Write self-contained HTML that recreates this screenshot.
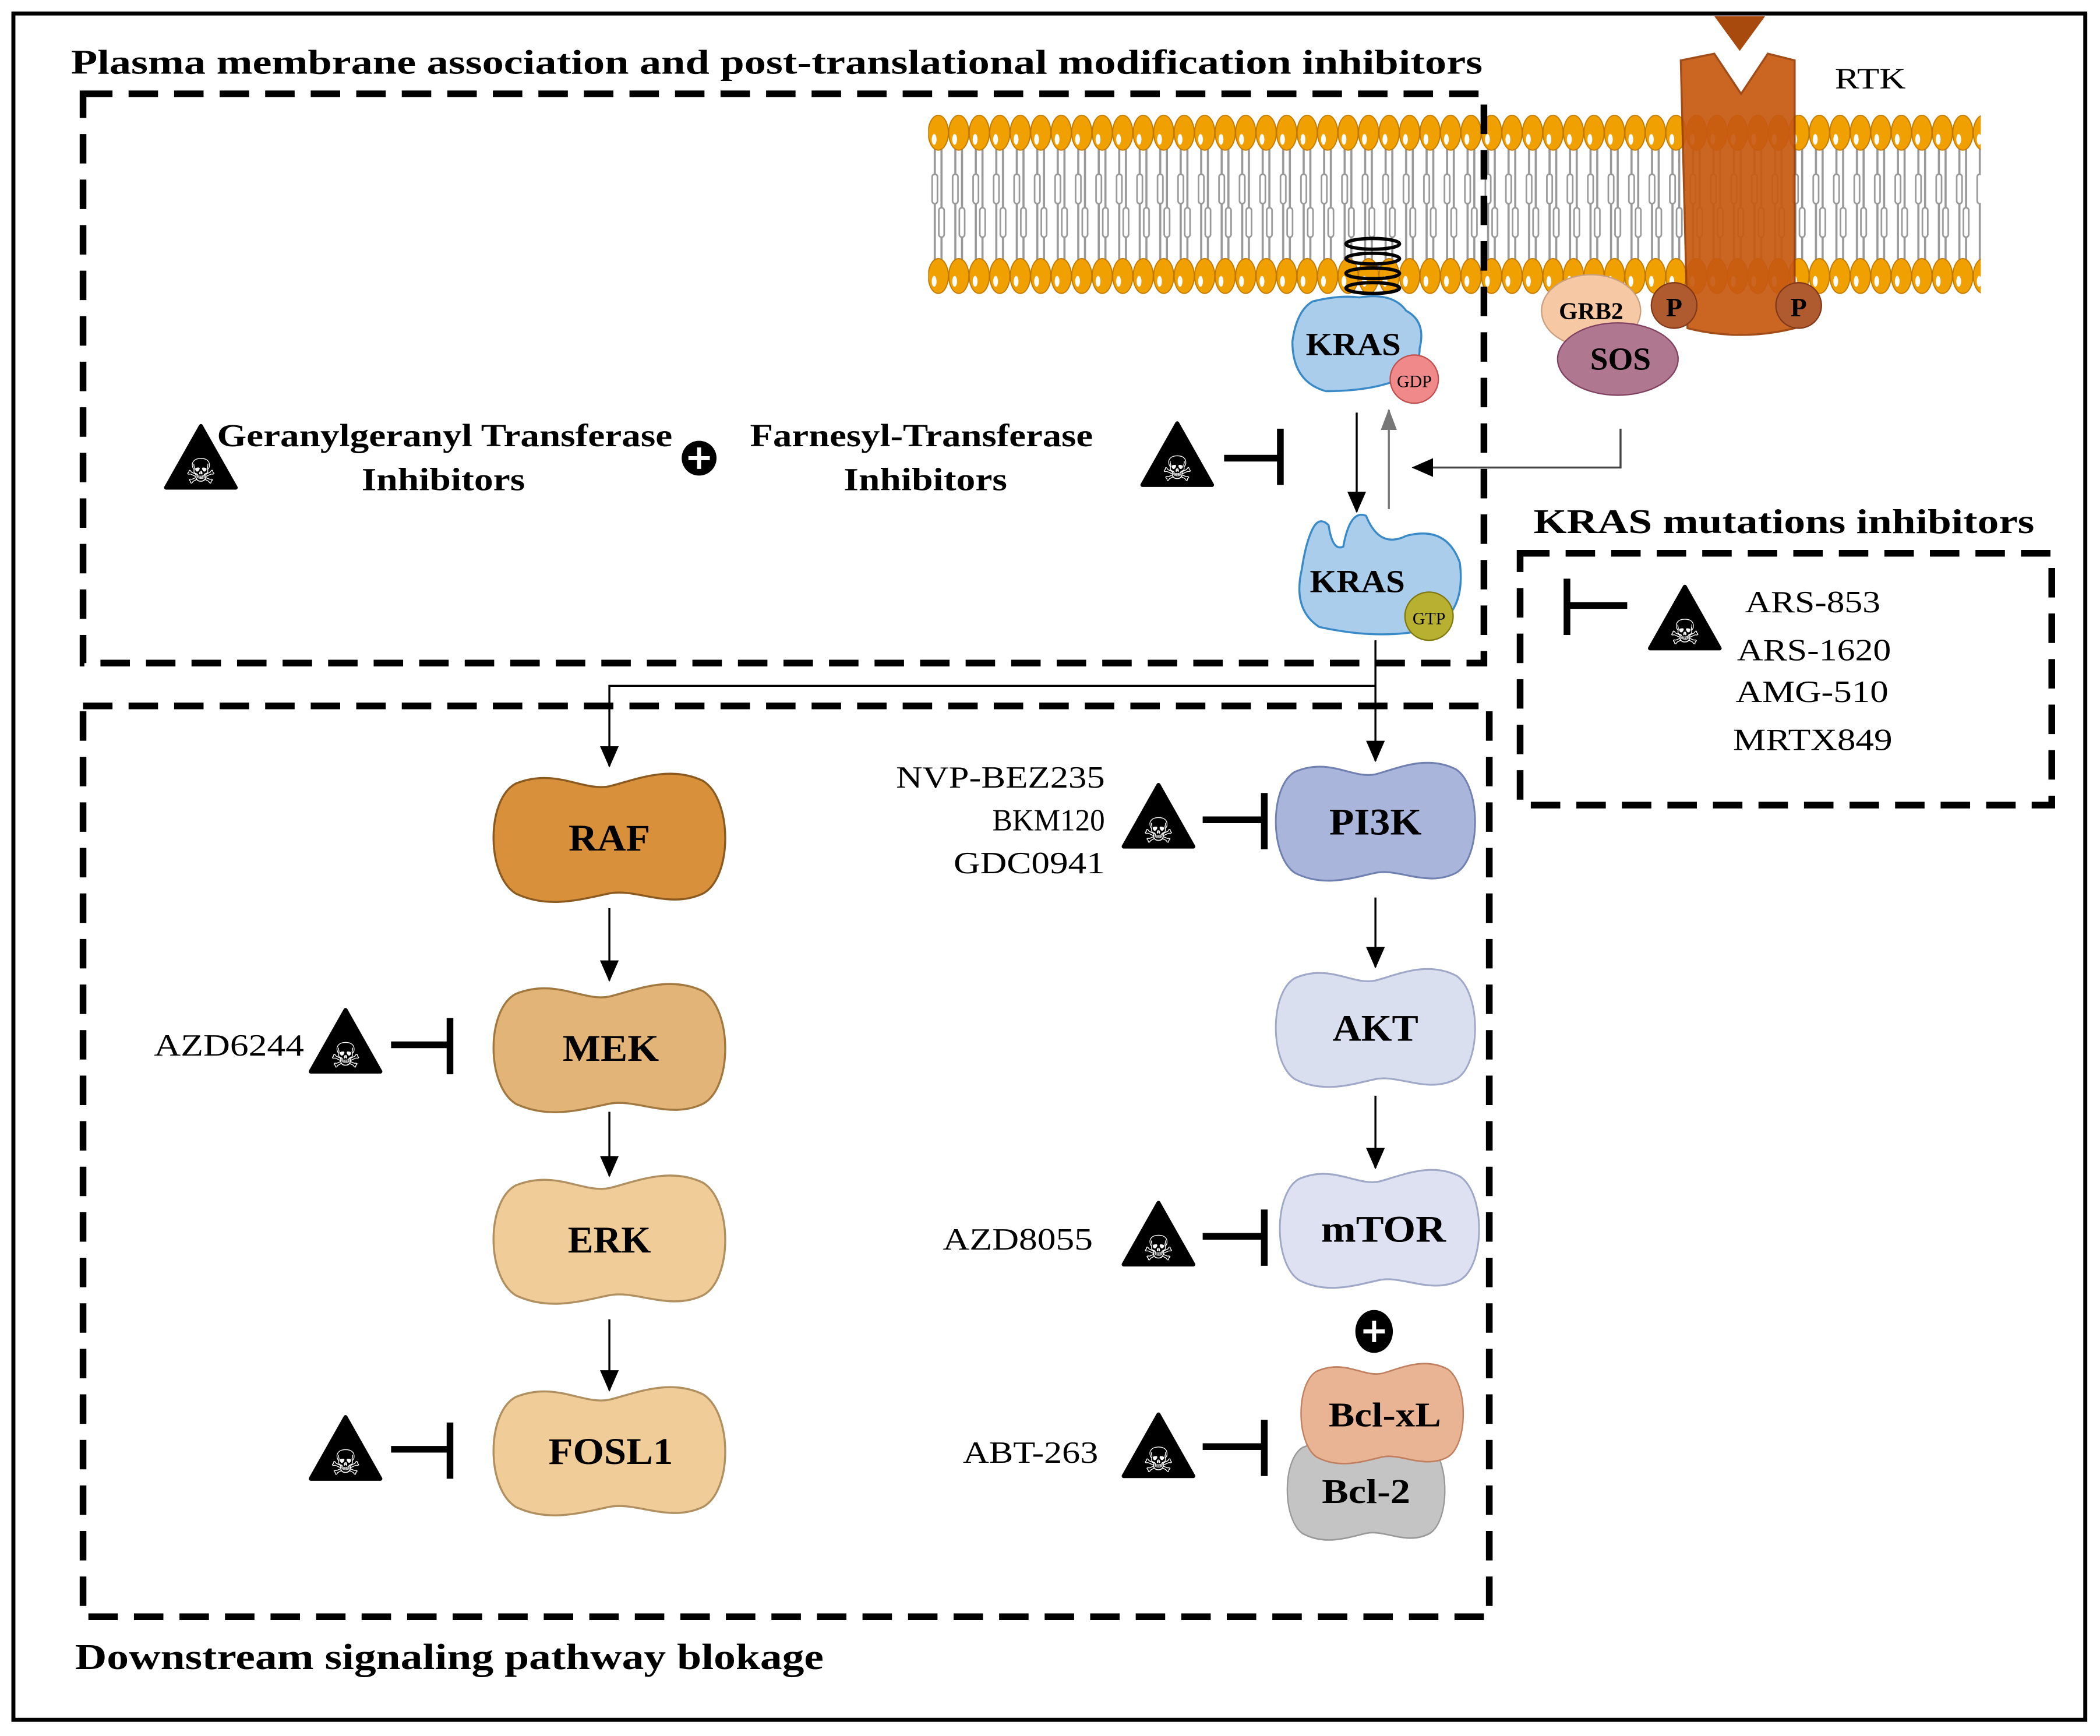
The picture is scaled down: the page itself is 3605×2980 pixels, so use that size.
<!DOCTYPE html>
<html><head><meta charset="utf-8"><style>
html,body{margin:0;padding:0;background:#fff;}
svg{display:block;}
text{font-family:"Liberation Serif",serif;}
</style></head><body>
<svg width="3605" height="2980" viewBox="0 0 1568 1296" xmlns="http://www.w3.org/2000/svg">
<defs>
<pattern id="mem" x="693" y="0" width="15.3" height="1296" patternUnits="userSpaceOnUse">
<line x1="5" y1="110" x2="5" y2="196" stroke="#999" stroke-width="1.6"/>
<line x1="10" y1="110" x2="10" y2="196" stroke="#999" stroke-width="1.6"/>
<rect x="3" y="130" width="4" height="22" rx="2" fill="#fff" stroke="#999" stroke-width="1.2"/>
<rect x="8" y="155" width="4" height="22" rx="2" fill="#fff" stroke="#999" stroke-width="1.2"/>
<ellipse cx="7.6" cy="99" rx="7.5" ry="13" fill="#f0a000" stroke="#c07800" stroke-width="0.8"/>
<ellipse cx="4.5" cy="104" rx="1.8" ry="4" fill="#fff"/>
<ellipse cx="7.6" cy="206" rx="7.5" ry="13" fill="#f0a000" stroke="#c07800" stroke-width="0.8"/>
<ellipse cx="4.5" cy="210" rx="1.8" ry="4" fill="#fff"/>
</pattern>
<path id="bean" d="M-70,-40 C-40,-52 -20,-34 0,-38 C20,-43 45,-54 70,-42 C92,-28 92,30 70,42 C45,54 20,38 0,42 C-20,46 -45,54 -70,42 C-92,28 -92,-28 -70,-40Z"/>
<g id="tri"><path d="M0,-24 L26,22 L-26,22Z" fill="#000" stroke="#000" stroke-width="3" stroke-linejoin="round"/></g>
<marker id="ar" markerWidth="16" markerHeight="14" refX="15" refY="7" orient="auto" markerUnits="userSpaceOnUse"><path d="M0,0 L16,7 L0,14Z" fill="#000"/></marker>
<marker id="ag" markerWidth="16" markerHeight="12" refX="15" refY="6" orient="auto" markerUnits="userSpaceOnUse"><path d="M0,0 L16,6 L0,12Z" fill="#777"/></marker>
</defs>
<rect x="10" y="10" width="1547" height="1274" fill="none" stroke="#000" stroke-width="3"/>
<rect x="693" y="84" width="786" height="138" fill="url(#mem)"/>
<path d="M1255,45 L1280,40 L1300,70 L1320,40 L1340,45 L1340,245 Q1300,255 1260,245Z" fill="#c85a12" stroke="#9a4008" stroke-width="1.5" opacity="0.93"/>
<path d="M1280,12 L1318,12 L1299,38Z" fill="#a8490d"/>
<text x="1370" y="66" font-size="22" textLength="53" lengthAdjust="spacingAndGlyphs">RTK</text>
<g fill="none" stroke="#000" stroke-width="5" stroke-dasharray="22,12">
<rect x="62" y="70" width="1046" height="425"/>
<rect x="62" y="527" width="1050" height="680"/>
<rect x="1135" y="413" width="397" height="188"/>
</g>
<text x="53" y="55" font-size="26" font-weight="bold" textLength="1054" lengthAdjust="spacingAndGlyphs">Plasma membrane association and post-translational  modification inhibitors</text>
<text x="1145" y="398" font-size="26" font-weight="bold" textLength="374" lengthAdjust="spacingAndGlyphs">KRAS mutations inhibitors</text>
<text x="56" y="1246" font-size="27" font-weight="bold" textLength="559" lengthAdjust="spacingAndGlyphs">Downstream signaling  pathway blokage</text>
<g fill="none" stroke="#000" stroke-width="2.5">
<ellipse cx="1025" cy="182" rx="20" ry="4"/><ellipse cx="1025" cy="193" rx="20" ry="4"/><ellipse cx="1025" cy="204" rx="20" ry="4"/><ellipse cx="1025" cy="215" rx="20" ry="4"/>
</g>
<path d="M980,225 Q1000,220 1015,222 Q1040,218 1050,232 Q1065,240 1060,260 Q1060,280 1040,285 Q1020,292 990,292 Q965,285 965,255 Q968,232 980,225Z" fill="#a9cdea" stroke="#3a8ac8" stroke-width="1.5"/>
<text x="975" y="265" font-size="24" font-weight="bold" textLength="71" lengthAdjust="spacingAndGlyphs">KRAS</text>
<circle cx="1056" cy="283" r="18" fill="#f08a8a" stroke="#c05050"/>
<text x="1056" y="289" font-size="13" text-anchor="middle">GDP</text>
<ellipse cx="1188" cy="232" rx="37" ry="27" fill="#f7c8a4" stroke="#c8a080"/>
<text x="1188" y="238" font-size="18" text-anchor="middle" font-weight="bold">GRB2</text>
<ellipse cx="1208" cy="268" rx="45" ry="27" fill="#b07890" stroke="#804060"/>
<text x="1210" y="276" font-size="24" text-anchor="middle" font-weight="bold">SOS</text>
<circle cx="1250" cy="228" r="17" fill="#b05a30" stroke="#803818"/>
<text x="1250" y="236" font-size="20" text-anchor="middle" font-weight="bold">P</text>
<circle cx="1343" cy="228" r="17" fill="#b05a30" stroke="#803818"/>
<text x="1343" y="236" font-size="20" text-anchor="middle" font-weight="bold">P</text>
<line x1="1013" y1="308" x2="1013" y2="382" stroke="#000" stroke-width="1.5" marker-end="url(#ar)"/>
<line x1="1037" y1="380" x2="1037" y2="306" stroke="#777" stroke-width="1.5" marker-end="url(#ag)"/>
<polyline points="1210,320 1210,349 1055,349" fill="none" stroke="#444" stroke-width="1.5" marker-end="url(#ar)"/>
<path d="M980,395 Q985,385 992,392 Q995,412 1003,408 Q1008,380 1020,385 Q1030,410 1050,400 Q1080,392 1090,420 Q1095,460 1065,470 Q1030,478 985,468 Q965,455 972,425 Q975,405 980,395Z" fill="#a9cdea" stroke="#3a8ac8" stroke-width="1.5"/>
<text x="978" y="442" font-size="24" font-weight="bold" textLength="71" lengthAdjust="spacingAndGlyphs">KRAS</text>
<circle cx="1067" cy="460" r="18" fill="#b8b030" stroke="#807810"/>
<text x="1067" y="466" font-size="13" text-anchor="middle">GTP</text>
<line x1="1027" y1="478" x2="1027" y2="568" stroke="#000" stroke-width="1.5" marker-end="url(#ar)"/>
<polyline points="1027,512 455,512 455,572" fill="none" stroke="#000" stroke-width="1.5" marker-end="url(#ar)"/>
<g stroke="#000" stroke-width="1.5">
<line x1="455" y1="678" x2="455" y2="732" marker-end="url(#ar)"/>
<line x1="455" y1="830" x2="455" y2="878" marker-end="url(#ar)"/>
<line x1="455" y1="985" x2="455" y2="1038" marker-end="url(#ar)"/>
<line x1="1027" y1="670" x2="1027" y2="722" marker-end="url(#ar)"/>
<line x1="1027" y1="818" x2="1027" y2="872" marker-end="url(#ar)"/>
</g>
<use href="#bean" transform="translate(455,625)" fill="#d8913a" stroke="#8a5a20" stroke-width="1.5"/>
<use href="#bean" transform="translate(455,782)" fill="#e3b477" stroke="#a07840" stroke-width="1.5"/>
<use href="#bean" transform="translate(455,925)" fill="#f0cc98" stroke="#b09060" stroke-width="1.5"/>
<use href="#bean" transform="translate(455,1083)" fill="#f0cc98" stroke="#b09060" stroke-width="1.5"/>
<use href="#bean" transform="translate(1027,613) scale(0.86,0.92)" fill="#aab5dc" stroke="#7080b0" stroke-width="1.5"/>
<use href="#bean" transform="translate(1027,767) scale(0.86,0.92)" fill="#dadff0" stroke="#a0a8c8" stroke-width="1.5"/>
<use href="#bean" transform="translate(1030,917) scale(0.86,0.92)" fill="#dde1f1" stroke="#a0a8c8" stroke-width="1.5"/>
<use href="#bean" transform="translate(1020,1112) scale(0.68,0.78)" fill="#c4c4c4" stroke="#999" stroke-width="1.5"/>
<use href="#bean" transform="translate(1032,1055) scale(0.7,0.78)" fill="#e8b494" stroke="#c08060" stroke-width="1.5"/>
<g font-size="28" font-weight="bold" text-anchor="middle">
<text x="455" y="635" textLength="61" lengthAdjust="spacingAndGlyphs">RAF</text>
<text x="456" y="792" textLength="72" lengthAdjust="spacingAndGlyphs">MEK</text>
<text x="455" y="935" textLength="62" lengthAdjust="spacingAndGlyphs">ERK</text>
<text x="456" y="1093" textLength="93" lengthAdjust="spacingAndGlyphs">FOSL1</text>
<text x="1027" y="623" textLength="69" lengthAdjust="spacingAndGlyphs">PI3K</text>
<text x="1027" y="777" textLength="64" lengthAdjust="spacingAndGlyphs">AKT</text>
<text x="1033" y="927" textLength="93" lengthAdjust="spacingAndGlyphs">mTOR</text>
<text x="1034" y="1065" font-size="26" textLength="84" lengthAdjust="spacingAndGlyphs">Bcl-xL</text>
<text x="1020" y="1122" font-size="26" textLength="66" lengthAdjust="spacingAndGlyphs">Bcl-2</text>
</g>
<g><circle cx="522" cy="342" r="13" fill="#000"/><path d="M514,342h16M522,334v16" stroke="#fff" stroke-width="3"/></g>
<g><ellipse cx="1026" cy="994" rx="14" ry="16" fill="#000"/><path d="M1018,994h16M1026,986v16" stroke="#fff" stroke-width="3"/></g>
<g font-size="23">
<text x="162" y="333" font-weight="bold" font-size="24" textLength="340" lengthAdjust="spacingAndGlyphs">Geranylgeranyl Transferase</text>
<text x="331" y="366" font-weight="bold" font-size="24" text-anchor="middle" textLength="122" lengthAdjust="spacingAndGlyphs">Inhibitors</text>
<text x="688" y="333" font-weight="bold" font-size="24" text-anchor="middle" textLength="256" lengthAdjust="spacingAndGlyphs">Farnesyl-Transferase</text>
<text x="691" y="366" font-weight="bold" font-size="24" text-anchor="middle" textLength="122" lengthAdjust="spacingAndGlyphs">Inhibitors</text>
<text x="669" y="588" textLength="156" lengthAdjust="spacingAndGlyphs">NVP-BEZ235</text>
<text x="741" y="620" textLength="84" lengthAdjust="spacingAndGlyphs">BKM120</text>
<text x="712" y="652" textLength="113" lengthAdjust="spacingAndGlyphs">GDC0941</text>
<text x="115" y="788" textLength="112" lengthAdjust="spacingAndGlyphs">AZD6244</text>
<text x="704" y="933" textLength="112" lengthAdjust="spacingAndGlyphs">AZD8055</text>
<text x="719" y="1092" textLength="101" lengthAdjust="spacingAndGlyphs">ABT-263</text>
<text x="1303" y="457" textLength="101" lengthAdjust="spacingAndGlyphs">ARS-853</text>
<text x="1297" y="493" textLength="115" lengthAdjust="spacingAndGlyphs">ARS-1620</text>
<text x="1296" y="524" textLength="114" lengthAdjust="spacingAndGlyphs">AMG-510</text>
<text x="1294" y="560" textLength="119" lengthAdjust="spacingAndGlyphs">MRTX849</text>
</g>
<g>
<use href="#tri" x="150" y="342"/><use href="#tri" x="879" y="340"/><use href="#tri" x="1258" y="462"/>
<use href="#tri" x="865" y="610"/><use href="#tri" x="258" y="778"/><use href="#tri" x="865" y="922"/>
<use href="#tri" x="258" y="1082"/><use href="#tri" x="865" y="1080"/>
</g>
<g font-size="26" fill="#fff" text-anchor="middle">
<text x="150" y="361" style="font-family:'DejaVu Sans',sans-serif">☠</text>
<text x="879" y="359" style="font-family:'DejaVu Sans',sans-serif">☠</text>
<text x="1258" y="481" style="font-family:'DejaVu Sans',sans-serif">☠</text>
<text x="865" y="629" style="font-family:'DejaVu Sans',sans-serif">☠</text>
<text x="258" y="797" style="font-family:'DejaVu Sans',sans-serif">☠</text>
<text x="865" y="941" style="font-family:'DejaVu Sans',sans-serif">☠</text>
<text x="258" y="1101" style="font-family:'DejaVu Sans',sans-serif">☠</text>
<text x="865" y="1099" style="font-family:'DejaVu Sans',sans-serif">☠</text>
</g>
<g stroke="#000" stroke-width="5" fill="none">
<path d="M914,342h42M956,320v42"/>
<path d="M1215,452h-45M1170,432v42"/>
<path d="M898,612h46M944,592v42"/>
<path d="M292,780h44M336,760v42"/>
<path d="M898,923h46M944,903v42"/>
<path d="M292,1082h44M336,1062v42"/>
<path d="M898,1080h46M944,1060v42"/>
</g>
</svg>
</body></html>
